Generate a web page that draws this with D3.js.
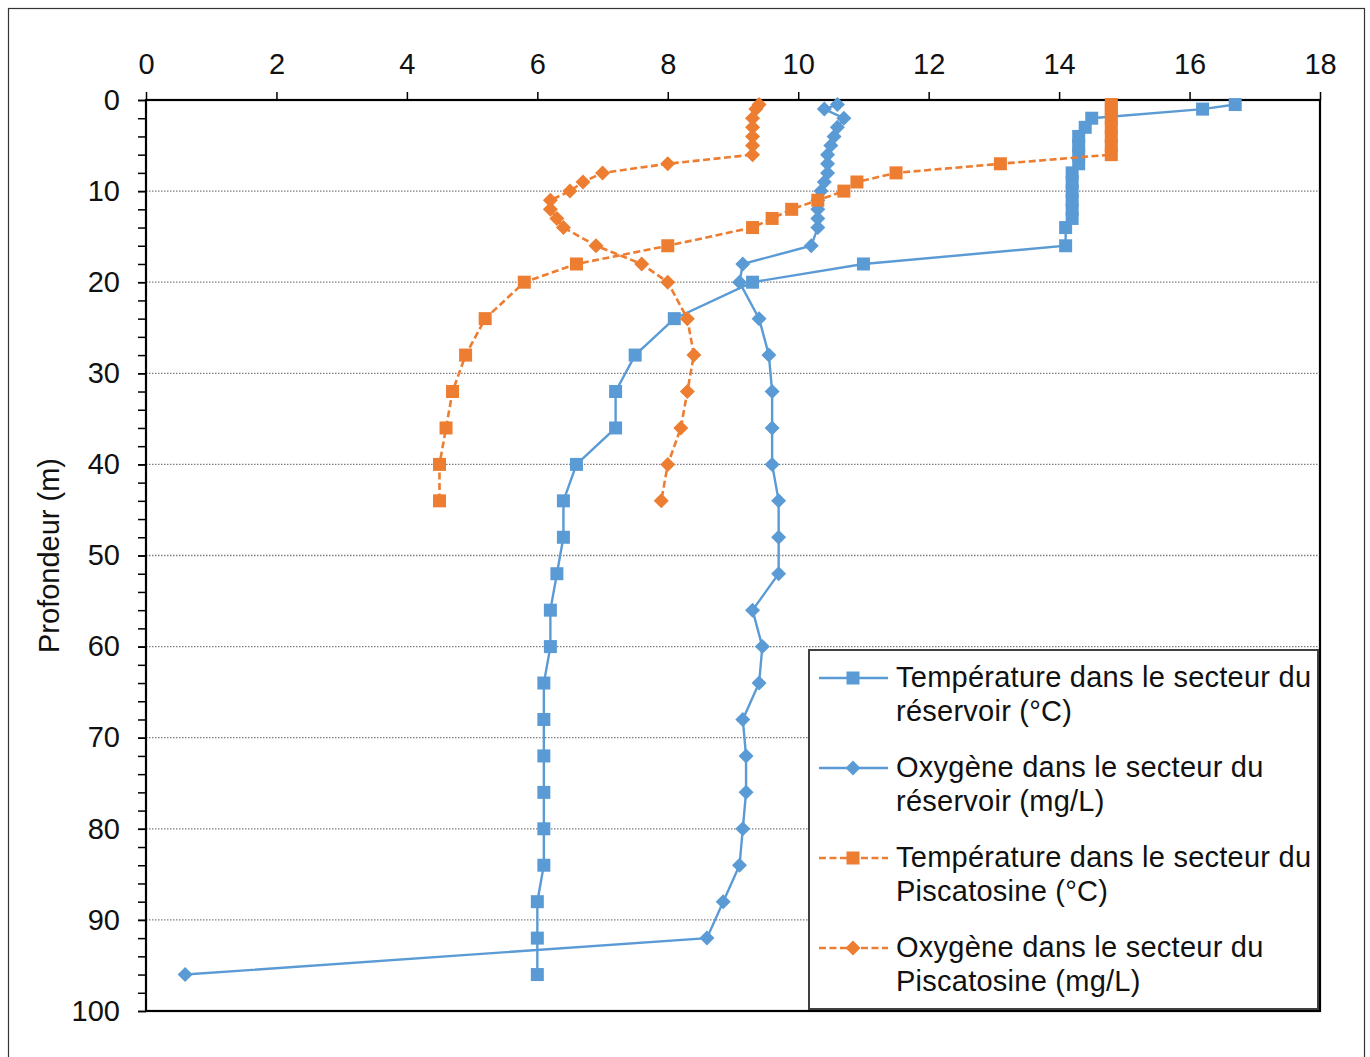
<!DOCTYPE html>
<html>
<head>
<meta charset="utf-8">
<script src="https://cdn.jsdelivr.net/npm/d3@7"></script>
<style>
  body { margin: 0; background: #fff; }
  text { font-family: "Liberation Sans", Arial, sans-serif; fill: #111; }
</style>
</head>
<body>
<script>
// depths (m)
var depthsReservoir = [0.5, 1, 2, 3, 4, 5, 6, 7, 8, 9, 10, 11, 12, 13, 14, 16, 18, 20, 24, 28, 32, 36, 40, 44, 48, 52, 56, 60, 64, 68, 72, 76, 80, 84, 88, 92, 96];
var depthsPiscatosine = [0.5, 1, 2, 3, 4, 5, 6, 7, 8, 9, 10, 11, 12, 13, 14, 16, 18, 20, 24, 28, 32, 36, 40, 44];

// values
var tempReservoir = [16.7, 16.2, 14.5, 14.4, 14.3, 14.3, 14.3, 14.3, 14.2, 14.2, 14.2, 14.2, 14.2, 14.2, 14.1, 14.1, 11.0, 9.3, 8.1, 7.5, 7.2, 7.2, 6.6, 6.4, 6.4, 6.3, 6.2, 6.2, 6.1, 6.1, 6.1, 6.1, 6.1, 6.1, 6.0, 6.0, 6.0];
var oxyReservoir = [10.6, 10.4, 10.7, 10.6, 10.55, 10.5, 10.45, 10.45, 10.45, 10.4, 10.35, 10.3, 10.3, 10.3, 10.3, 10.2, 9.15, 9.1, 9.4, 9.55, 9.6, 9.6, 9.6, 9.7, 9.7, 9.7, 9.3, 9.45, 9.4, 9.15, 9.2, 9.2, 9.15, 9.1, 8.85, 8.6, 0.6];
var tempPiscatosine = [14.8, 14.8, 14.8, 14.8, 14.8, 14.8, 14.8, 13.1, 11.5, 10.9, 10.7, 10.3, 9.9, 9.6, 9.3, 8.0, 6.6, 5.8, 5.2, 4.9, 4.7, 4.6, 4.5, 4.5];
var oxyPiscatosine = [9.4, 9.35, 9.3, 9.3, 9.3, 9.3, 9.3, 8.0, 7.0, 6.7, 6.5, 6.2, 6.2, 6.3, 6.4, 6.9, 7.6, 8.0, 8.3, 8.4, 8.3, 8.2, 8.0, 7.9];

var seriesNames = [
  ["Température dans le secteur du", "réservoir (°C)"],
  ["Oxygène dans le secteur du", "réservoir (mg/L)"],
  ["Température dans le secteur du", "Piscatosine (°C)"],
  ["Oxygène dans le secteur du", "Piscatosine (mg/L)"]
];
var xTicks = [0, 2, 4, 6, 8, 10, 12, 14, 16, 18];
var yTicks = [0, 10, 20, 30, 40, 50, 60, 70, 80, 90, 100];

var w = 1370;
var h = 1057;
var blue = "#5b9bd5";
var orange = "#ed7d31";

var series = [
  { depths: depthsReservoir, values: tempReservoir, color: blue, dash: null, marker: "square" },
  { depths: depthsReservoir, values: oxyReservoir, color: blue, dash: null, marker: "diamond" },
  { depths: depthsPiscatosine, values: tempPiscatosine, color: orange, dash: "7,3.5", marker: "square" },
  { depths: depthsPiscatosine, values: oxyPiscatosine, color: orange, dash: "7,3.5", marker: "diamond" }
];

var svg = d3.select("body").append("svg")
  .attr("width", w)
  .attr("height", h);

// outer frame
svg.append("rect")
  .attr("x", 8.5).attr("y", 8.5)
  .attr("width", 1356).attr("height", 1060)
  .attr("fill", "#fff")
  .attr("stroke", "#333")
  .attr("stroke-width", 1.2);

var xScale = d3.scaleLinear().domain([0, 18]).range([146, 1320]);
var yScale = d3.scaleLinear().domain([0, 100]).range([100, 1011]);

// gridlines
svg.append("g").selectAll("line")
  .data(yTicks.filter(function(d) { return d > 0 && d < 100; }))
  .enter().append("line")
  .attr("x1", xScale(0)).attr("x2", xScale(18))
  .attr("y1", function(d) { return yScale(d); })
  .attr("y2", function(d) { return yScale(d); })
  .attr("stroke", "#7f7f7f")
  .attr("stroke-width", 1.3)
  .attr("stroke-dasharray", "1.5,1.5");

// axes
var xAxis = svg.append("g")
  .attr("transform", "translate(0," + yScale(0) + ")")
  .call(d3.axisTop(xScale).tickValues(xTicks).tickSize(8).tickSizeOuter(0).tickPadding(18));

var yMinor = svg.append("g")
  .attr("transform", "translate(" + xScale(0) + ",0)")
  .call(d3.axisLeft(yScale).tickValues(d3.range(0, 101, 2)).tickSize(8).tickSizeOuter(0).tickFormat(""));

var yAxis = svg.append("g")
  .attr("transform", "translate(" + xScale(0) + ",0)")
  .call(d3.axisLeft(yScale).tickValues(yTicks).tickSize(8).tickSizeOuter(0).tickPadding(18));

[xAxis, yMinor, yAxis].forEach(function(a) {
  a.select(".domain").remove();
  a.selectAll(".tick line").attr("stroke", "#000").attr("stroke-width", 1.5);
  a.selectAll("text").attr("font-size", 29).attr("fill", "#111")
    .attr("font-family", "Liberation Sans, Arial, sans-serif");
});

// plot frame
svg.append("rect")
  .attr("x", xScale(0)).attr("y", yScale(0))
  .attr("width", xScale(18) - xScale(0))
  .attr("height", yScale(100) - yScale(0))
  .attr("fill", "none")
  .attr("stroke", "#000")
  .attr("stroke-width", 2.2);

// y axis title
svg.append("text")
  .attr("transform", "translate(59," + ((yScale(0) + yScale(100)) / 2) + ") rotate(-90)")
  .attr("text-anchor", "middle")
  .attr("font-size", 29)
  .text("Profondeur (m)");

function drawMarker(g, type, color) {
  if (type == "square") {
    g.append("rect")
      .attr("x", -6.5).attr("y", -6.5)
      .attr("width", 13).attr("height", 13)
      .attr("fill", color);
  } else {
    g.append("path")
      .attr("d", "M0,-7.5L7.5,0L0,7.5L-7.5,0Z")
      .attr("fill", color);
  }
}

var line = d3.line()
  .x(function(d) { return xScale(d[1]); })
  .y(function(d) { return yScale(d[0]); });

series.forEach(function(s) {
  var pts = s.depths.map(function(d, i) { return [d, s.values[i]]; });
  var g = svg.append("g");
  g.append("path")
    .datum(pts)
    .attr("d", line)
    .attr("fill", "none")
    .attr("stroke", s.color)
    .attr("stroke-width", s.dash ? 2.6 : 2.4)
    .attr("stroke-dasharray", s.dash);
  g.selectAll(".pt")
    .data(pts)
    .enter().append("g")
    .attr("class", "pt")
    .attr("transform", function(d) { return "translate(" + xScale(d[1]) + "," + yScale(d[0]) + ")"; })
    .each(function() { drawMarker(d3.select(this), s.marker, s.color); });
});

// legend
var legend = svg.append("g");
legend.append("rect")
  .attr("x", 809).attr("y", 650)
  .attr("width", 509).attr("height", 359)
  .attr("fill", "#fff")
  .attr("stroke", "#404040")
  .attr("stroke-width", 2);

var items = legend.selectAll(".legenda")
  .data(series)
  .enter().append("g")
  .attr("class", "legenda")
  .attr("transform", function(d, i) { return "translate(0," + (i * 90) + ")"; });

items.append("line")
  .attr("x1", 819).attr("x2", 888)
  .attr("y1", 678).attr("y2", 678)
  .attr("stroke", function(d) { return d.color; })
  .attr("stroke-width", 2.4)
  .attr("stroke-dasharray", function(d) { return d.dash; });

items.each(function(d) {
  var m = d3.select(this).append("g").attr("transform", "translate(853,678)");
  drawMarker(m, d.marker, d.color);
});

items.each(function(d, i) {
  var t = d3.select(this).append("text")
    .attr("x", 896).attr("y", 687)
    .attr("font-size", 29)
    .attr("letter-spacing", 0.25);
  seriesNames[i].forEach(function(l, j) {
    t.append("tspan").attr("x", 896).attr("dy", j == 0 ? 0 : 34).text(l);
  });
});
</script>
</body>
</html>
